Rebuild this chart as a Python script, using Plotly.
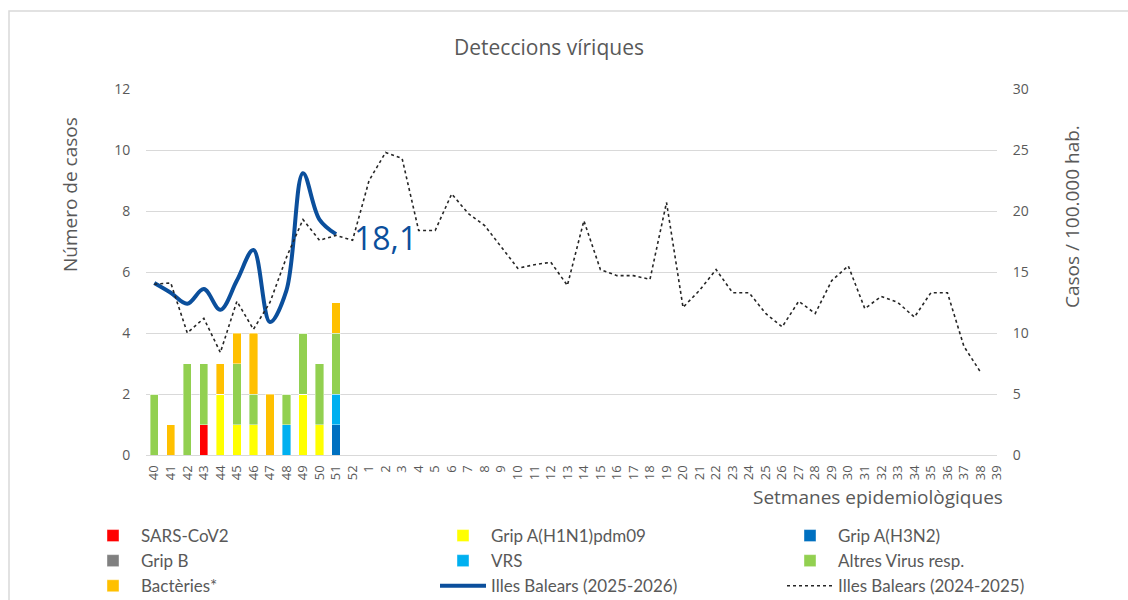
import plotly.graph_objects as go

weeks = [str(w) for w in list(range(40, 53)) + list(range(1, 40))]
bar_weeks = weeks[:12]

sars = [0, 0, 0, 1, 0, 0, 0, 0, 0, 0, 0, 0]
h1n1 = [0, 0, 0, 0, 2, 1, 1, 0, 0, 2, 1, 0]
h3n2 = [0, 0, 0, 0, 0, 0, 0, 0, 0, 0, 0, 1]
gripb = [0, 0, 0, 0, 0, 0, 0, 0, 0, 0, 0, 0]
vrs = [0, 0, 0, 0, 0, 0, 0, 0, 1, 0, 0, 1]
altres = [2, 0, 3, 2, 0, 2, 1, 0, 1, 2, 2, 2]
bact = [0, 1, 0, 0, 1, 1, 2, 2, 0, 0, 0, 1]

ib_2526 = [14.1, 13.3, 12.4, 13.6, 11.9, 14.3, 16.8, 10.9, 13.5, 23.1, 19.3, 18.1]
ib_2425 = [14.0, 14.1, 10.0, 11.2, 8.4, 12.6, 10.3, 12.5, 16.2, 19.3, 17.6, 18.0, 17.6,
           22.5, 24.8, 24.3, 18.4, 18.4, 21.4, 19.8, 18.8, 17.0, 15.3, 15.6, 15.8, 13.9,
           19.2, 15.2, 14.7, 14.7, 14.4, 20.7, 12.1, 13.5, 15.2, 13.3, 13.3, 11.6, 10.5,
           12.6, 11.6, 14.3, 15.5, 12.0, 13.0, 12.5, 11.3, 13.3, 13.3, 8.9, 6.8, None]

FONT = "Open Sans"
GREY = "#595959"

fig = go.Figure()

bars = [
    ("SARS-CoV2", sars, "#ff0000", "legend"),
    ("Grip A(H1N1)pdm09", h1n1, "#ffff00", "legend2"),
    ("Grip A(H3N2)", h3n2, "#0070c0", "legend3"),
    ("Grip B", gripb, "#808080", "legend"),
    ("VRS", vrs, "#00b0f0", "legend2"),
    ("Altres Virus resp.", altres, "#92d050", "legend3"),
    ("Bactèries*", bact, "#ffc000", "legend"),
]
for name, vals, col, lg in bars:
    fig.add_trace(go.Bar(x=bar_weeks, y=vals, name=name, marker_color=col,
                         marker_line_color="rgba(255,255,255,0.5)", marker_line_width=0.8,
                         legend=lg))

fig.add_trace(go.Scatter(x=bar_weeks, y=ib_2526, name="Illes Balears (2025-2026)",
                         mode="lines", yaxis="y2", legend="legend2",
                         line=dict(color="#0b4f9c", width=4, shape="spline", smoothing=1.0)))
fig.add_trace(go.Scatter(x=weeks, y=ib_2425, name="Illes Balears (2024-2025)",
                         mode="lines", yaxis="y2", legend="legend3",
                         line=dict(color="#262626", width=1.6, dash="dot")))

# data label on the last point of the 2025-2026 series (category index of last week)
last_idx = weeks.index(bar_weeks[-1])
fig.add_annotation(x=last_idx, y=ib_2526[-1], xref="x", yref="y2",
                   text=f"{ib_2526[-1]:.1f}".replace(".", ","),
                   showarrow=False, xanchor="left", yanchor="middle", xshift=16, yshift=-3,
                   font=dict(family=FONT, size=32, color="#0b4f9c"))

legend_common = dict(orientation="v", xref="container", yref="container",
                     xanchor="left", yanchor="top", bgcolor="rgba(0,0,0,0)",
                     font=dict(family="Lato", size=17, color=GREY),
                     itemwidth=46, traceorder="normal", tracegroupgap=0)

fig.update_layout(
    width=1128, height=600,
    margin=dict(l=146, r=131, t=89, b=145, autoexpand=False),
    paper_bgcolor="white", plot_bgcolor="white",
    barmode="stack", bargap=0.5,
    showlegend=True,
    title=dict(text="Deteccions víriques", x=(549 - 146) / 851, xref="paper",
               y=1 - 48 / 600, yanchor="middle", xanchor="center",
               font=dict(family=FONT, size=21, color=GREY)),
    xaxis=dict(type="category", categoryorder="array", categoryarray=weeks,
               tickmode="array", tickvals=weeks, ticktext=weeks,
               tickangle=-90, tickfont=dict(family=FONT, size=13, color=GREY),
               showgrid=False, showline=True, linecolor="#d9d9d9", linewidth=1.3,
               ticks="outside", ticklen=4, tickcolor="rgba(0,0,0,0)"),
    yaxis=dict(range=[0, 12], dtick=2, showgrid=True, gridcolor="#d9d9d9", gridwidth=1.3,
               zeroline=False, tickfont=dict(family=FONT, size=14, color=GREY),
               ticks="outside", ticklen=12, tickcolor="rgba(0,0,0,0)"),
    yaxis2=dict(range=[0, 30], dtick=5, overlaying="y", side="right", showgrid=False,
                zeroline=False, tickfont=dict(family=FONT, size=14, color=GREY),
                ticks="outside", ticklen=12, tickcolor="rgba(0,0,0,0)"),
    legend=dict(x=85 / 1128, y=1 - 518 / 600, **legend_common),
    legend2=dict(x=435 / 1128, y=1 - 518 / 600, **legend_common),
    legend3=dict(x=782 / 1128, y=1 - 518 / 600, **legend_common),
)

fig.add_annotation(x=(1005 - 146) / 851, y=(455 - 497) / 366, xref="paper", yref="paper",
                   text="Setmanes epidemiològiques", showarrow=False,
                   xanchor="right", yanchor="middle",
                   font=dict(family=FONT, size=19, color=GREY))
fig.add_annotation(x=(70 - 146) / 851, y=(455 - 195) / 366, xref="paper", yref="paper",
                   text="Número de casos", showarrow=False, textangle=-90,
                   xanchor="center", yanchor="middle",
                   font=dict(family=FONT, size=19, color=GREY))
fig.add_annotation(x=(1072 - 146) / 851, y=(455 - 217) / 366, xref="paper", yref="paper",
                   text="Casos / 100.000 hab.", showarrow=False, textangle=-90,
                   xanchor="center", yanchor="middle",
                   font=dict(family=FONT, size=19, color=GREY))

fig.add_shape(type="rect", xref="paper", yref="paper",
              x0=(9 - 146) / 851, x1=(1135 - 146) / 851,
              y0=(455 - 610) / 366, y1=(455 - 11) / 366,
              line=dict(color="#d9d9d9", width=1.5), fillcolor="rgba(0,0,0,0)", layer="below")

fig.write_html("out.html", config={"displayModeBar": False},
               post_script="document.body.style.margin='0';document.body.style.overflow='hidden';")
